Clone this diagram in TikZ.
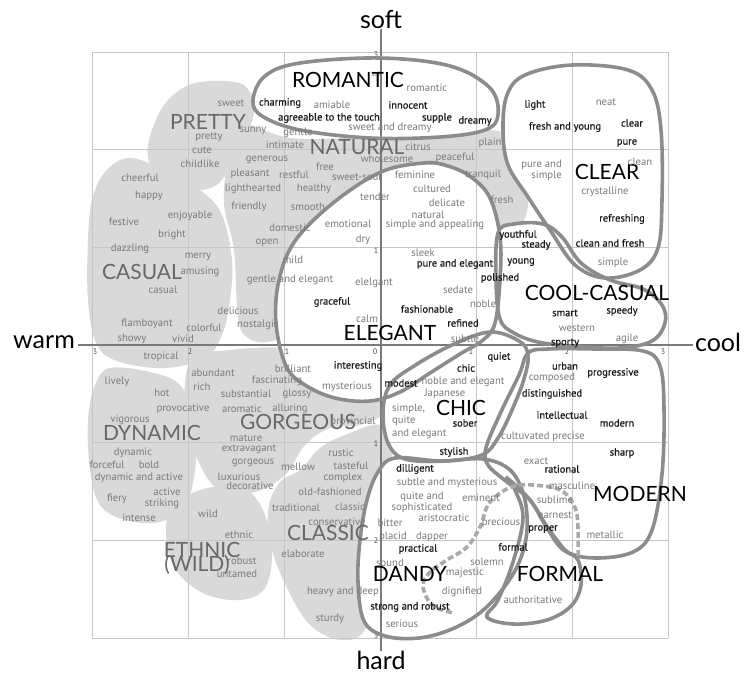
\documentclass[tikz,border=0pt]{standalone}
\usepackage{fontspec}
\setmainfont{PT Sans}
\newfontfamily\labfont{Lato}
\newfontfamily\bwfont[FakeBold=0.6]{PT Sans}
\definecolor{blob}{HTML}{D9D9D9}
\definecolor{wgray}{HTML}{7A7A7A}
\definecolor{lgray}{HTML}{686868}
\definecolor{ogray}{HTML}{8C8C8C}
\definecolor{gridc}{HTML}{C6C6C6}
\definecolor{axc}{HTML}{7A7A7A}
\begin{document}
\begin{tikzpicture}[x=1pt,y=-1pt,
 gw/.style={text=wgray,font=\fontsize{10.7}{11}\selectfont,inner sep=0pt},
 bw/.style={text=black!90,font=\bwfont\fontsize{10.5}{11}\selectfont,inner sep=0pt},
 bl/.style={text=black,font=\labfont\fontsize{21}{21}\selectfont,inner sep=0pt},
 gl/.style={text=lgray,font=\labfont\fontsize{21}{21}\selectfont,inner sep=0pt},
 axl/.style={font=\labfont\fontsize{25}{25}\selectfont,inner sep=0pt},
 tickl/.style={font=\fontsize{8}{8}\selectfont,text=black!70,inner sep=0pt},
 region/.style={draw=ogray,line width=3.6pt},
 rgRomantic/.style={insert path={plot[smooth cycle,tension=0.6] coordinates{(253,100) (265,76) (300,63) (380,58) (450,66) (490,88) (498,115) (485,130) (440,137) (370,138) (300,130) (262,116)}}},
 rgClear/.style={insert path={plot[smooth cycle,tension=0.6] coordinates{(572,65) (628,70) (652,90) (661,130) (662,200) (658,248) (640,270) (605,278) (575,265) (550,230) (528,197) (508,165) (503,130) (507,95) (525,75)}}},
 rgElegant/.style={insert path={plot[smooth cycle,tension=0.6] coordinates{(424,163) (381,172) (333,203) (295,241) (279,280) (276,323) (286,366) (305,385) (335,398) (370,401) (400,392) (430,373) (460,354) (483,340) (495,323) (500,280) (500,237) (490,198) (471,177) (448,166)}}},
 rgCool/.style={insert path={plot[smooth cycle,tension=0.6] coordinates{(498,233) (514,224) (543,224) (562,237) (581,263) (610,280) (643,289) (662,305) (665,323) (652,341) (619,348) (571,346) (538,342) (514,333) (500,319) (496,280)}}},
 rgChic/.style={insert path={plot[smooth cycle,tension=0.6] coordinates{(490,332) (519,341) (528,355) (524,379) (512,410) (498,438) (482,455) (445,461) (405,459) (388,443) (383,412) (390,385) (414,366) (452,345)}}},
 rgModern/.style={insert path={plot[smooth cycle,tension=0.6] coordinates{(528,353) (548,349) (595,349) (643,351) (660,366) (664,409) (662,474) (652,530) (633,552) (595,558) (565,551) (547,528) (530,500) (507,482) (488,465) (486,448) (500,414) (519,375)}}},
 rgDandy/.style={insert path={plot[smooth cycle,tension=0.6] coordinates{(395,458) (440,461) (483,459) (510,470) (524,496) (527,530) (520,560) (505,586) (481,612) (452,629) (419,638) (385,636) (364,621) (358,582) (360,540) (367,500) (378,472)}}},
 rgFormal/.style={insert path={plot[smooth cycle,tension=0.6] coordinates{(507,478) (530,500) (548,528) (565,550) (578,560) (581,585) (571,606) (547,620) (513,624) (487,617) (498,600) (513,562) (523,518) (515,490)}}},
]
\useasboundingbox (0,0) rectangle (744,678);
% gray blobs
\fill[blob] plot[smooth cycle,tension=0.6] coordinates{(195,83) (235,82) (250,92) (254,112) (245,140) (230,168) (215,186) (190,190) (162,180) (148,158) (152,130) (168,100)};
\fill[blob] plot[smooth cycle,tension=0.6] coordinates{(128,158) (160,168) (200,190) (222,215) (232,260) (230,300) (222,335) (205,358) (165,368) (120,362) (97,345) (88,300) (88,240) (92,200) (105,172)};
\fill[blob] plot[smooth cycle,tension=0.6] coordinates{(240,125) (290,138) (350,138) (430,135) (490,130) (510,140) (522,170) (528,205) (518,228) (490,240) (420,245) (330,245) (290,270) (282,330) (268,342) (248,338) (238,318) (234,250) (224,205) (228,160)};
\fill[blob] plot[smooth cycle,tension=0.6] coordinates{(110,368) (150,372) (180,385) (195,420) (195,470) (185,505) (160,522) (125,520) (100,505) (90,470) (88,420) (95,385)};
\fill[blob] plot[smooth cycle,tension=0.6] coordinates{(190,362) (230,350) (300,350) (360,380) (385,410) (360,425) (330,428) (305,445) (285,475) (255,492) (220,490) (200,465) (186,420)};
\fill[blob] plot[smooth cycle,tension=0.6] coordinates{(300,470) (320,448) (345,435) (380,425) (392,450) (390,520) (375,580) (365,630) (340,640) (310,625) (288,590) (272,550) (268,510) (280,482)};
\fill[blob] plot[smooth cycle,tension=0.6] coordinates{(170,510) (200,490) (240,487) (262,508) (272,550) (265,588) (240,600) (205,594) (178,573) (167,545)};
% white regions
\fill[white,rgRomantic];
\fill[white,rgClear];
\fill[white,rgElegant];
\fill[white,rgCool];
\fill[white,rgChic];
\fill[white,rgModern];
\fill[white,rgDandy];
\fill[white,rgFormal];
% grid
\foreach \gx in {92,188,284,380,476,572,668} \draw[gridc,line width=0.8pt] (\gx,52) -- (\gx,638);
\foreach \gy in {52,149.7,247.3,345,442.7,540.3,638} \draw[gridc,line width=0.8pt] (92,\gy) -- (668,\gy);
% axes
\node[axl] (soft) at (381,20) {soft};
\node[axl] (hard) at (381,660) {hard};
\node[axl] (warm) at (44,342) {warm};
\node[axl] (cool) at (718,342) {cool};
\coordinate (axL) at (78,345);
\coordinate (axR) at (693,345);
\draw[axc,line width=1.2pt] (soft.south) -- (hard.north);
\draw[axc,line width=1.2pt] (axL) -- (axR);
% ticks
\node[tickl] (t1) at (95,352) {3};
\node[tickl] (t2) at (190,352) {2};
\node[tickl] (t3) at (287,352) {1};
\node[tickl] (t4) at (375,352) {0};
\node[tickl] (t5) at (471,352) {1};
\node[tickl] (t6) at (567,352) {2};
\node[tickl] (t7) at (663,352) {3};
\node[tickl] (t8) at (376,55) {3};
\node[tickl] (t9) at (376,251) {1};
\node[tickl] (t10) at (376,444) {1};
\node[tickl] (t11) at (376,541) {2};
\node[tickl] (t12) at (376,636) {3};
% outlines
\draw[region,rgRomantic];
\draw[region,rgClear];
\draw[region,rgElegant];
\draw[region,rgCool];
\draw[region,rgChic];
\draw[region,rgModern];
\draw[region,rgDandy];
\draw[region,rgFormal];
\draw[draw=ogray!75,line width=3.6pt,dash pattern=on 6pt off 3pt] plot[smooth,tension=0.6] coordinates{(578,556) (577,515) (567,495) (550,487) (515,486) (490,502) (480,527) (467,547) (447,560) (430,572) (423,585) (428,600) (437,608) (453,613)};
% big labels
\node[gw,font=\fontsize{7}{8}\selectfont] (wsoft) at (377,74) {soft};
\node[bl] (lRomantic) at (348,80) {ROMANTIC};
\node[gl] (lPretty) at (208,122) {PRETTY};
\node[gl] (lNatural) at (357,147) {NATURAL};
\node[bl] (lClear) at (607,172) {CLEAR};
\node[gl] (lCasual) at (142,272) {CASUAL};
\node[bl] (lCool) at (597,293) {COOL-CASUAL};
\node[bl] (lElegant) at (390,333) {ELEGANT};
\node[bl] (lChic) at (461,408) {CHIC};
\node[gl] (lGorgeous) at (298,422) {GORGEOUS};
\node[gl] (lDynamic) at (152,433) {DYNAMIC};
\node[bl] (lModern) at (640,494) {MODERN};
\node[gl] (lClassic) at (328,533) {CLASSIC};
\node[gl] (lEthnic) at (202,550) {ETHNIC};
\node[gl] (lWild) at (197,565) {(WILD)};
\node[bl] (lDandy) at (410,574) {DANDY};
\node[bl] (lFormal) at (560,574) {FORMAL};
% left words
\node[gw] (a1) at (231,103) {sweet};
\node[bw] (a2) at (280,103) {charming};
\node[gw] (a3) at (253,131) {sunny};
\node[gw] (a4) at (209,137) {pretty};
\node[gw] (a5) at (298,133) {gentle};
\node[gw] (a6) at (285,145) {intimate};
\node[gw] (a7) at (202,150) {cute};
\node[gw] (a8) at (200,164) {childlike};
\node[gw] (a9) at (267,160) {generous};
\node[gw] (a10) at (140,178) {cheerful};
\node[gw] (a11) at (250,174) {pleasant};
\node[gw] (a12) at (294,175) {restful};
\node[gw] (a13) at (149,196) {happy};
\node[gw] (a14) at (253,189) {lighthearted};
\node[gw] (a15) at (314,189) {healthy};
\node[gw] (a16) at (249,207) {friendly};
\node[gw] (a17) at (308,207) {smooth};
\node[gw] (a18) at (124,222) {festive};
\node[gw] (a19) at (190,216) {enjoyable};
\node[gw] (a20) at (290,228) {domestic};
\node[gw] (a21) at (172,235) {bright};
\node[gw] (a22) at (267,243) {open};
\node[gw] (a23) at (130,249) {dazzling};
\node[gw] (a24) at (198,257) {merry};
\node[gw] (a25) at (293,260) {mild};
\node[gw] (a26) at (200,272) {amusing};
\node[gw] (a27) at (290,280) {gentle and elegant};
\node[gw] (a28) at (163,290) {casual};
\node[gw] (a29) at (238,311) {delicious};
\node[gw] (a30) at (147,324) {flamboyant};
\node[gw] (a31) at (204,328) {colorful};
\node[gw] (a32) at (258,325) {nostalgic};
\node[gw] (a33) at (132,339) {showy};
\node[gw] (a34) at (183,339) {vivid};
\node[gw] (a35) at (161,357) {tropical};
\node[gw] (a36) at (213,373) {abundant};
\node[gw] (a37) at (117,382) {lively};
\node[gw] (a38) at (277,381) {fascinating};
\node[gw] (a39) at (202,387) {rich};
\node[gw] (a40) at (162,393) {hot};
\node[gw] (a41) at (246,394) {substantial};
\node[gw] (a42) at (297,394) {glossy};
\node[gw] (a43) at (293,369) {brilliant};
\node[gw] (a44) at (183,409) {provocative};
\node[gw] (a45) at (242,409) {aromatic};
\node[gw] (a46) at (290,409) {alluring};
\node[gw] (a47) at (130,420) {vigorous};
\node[gw] (a48) at (246,438) {mature};
\node[gw] (a49) at (249,449) {extravagant};
\node[gw] (a50) at (133,453) {dynamic};
\node[gw] (a51) at (253,463) {gorgeous};
\node[gw] (a52) at (107,465) {forceful};
\node[gw] (a53) at (149,465) {bold};
\node[gw] (a54) at (139,478) {dynamic and active};
\node[gw] (a55) at (239,477) {luxurious};
\node[gw] (a56) at (250,486) {decorative};
\node[gw] (a57) at (167,492) {active};
\node[gw] (a58) at (117,499) {fiery};
\node[gw] (a59) at (162,504) {striking};
\node[gw] (a60) at (208,514) {wild};
\node[gw] (a61) at (139,518) {intense};
\node[gw] (a62) at (239,535) {ethnic};
\node[gw] (a63) at (242,561) {robust};
\node[gw] (a64) at (237,574) {untamed};
\node[gw] (a65) at (353,422) {provincial};
\node[gw] (a66) at (341,453) {rustic};
\node[gw] (a67) at (298,467) {mellow};
\node[gw] (a68) at (351,466) {tasteful};
\node[gw] (a69) at (343,478) {complex};
\node[gw] (a70) at (330,492) {old-fashioned};
\node[gw] (a71) at (296,508) {traditional};
\node[gw] (a72) at (350,507) {classic};
\node[gw] (a73) at (337,522) {conservative};
\node[gw] (a74) at (303,554) {elaborate};
\node[gw] (a75) at (343,592) {heavy and deep};
\node[gw] (a76) at (330,619) {sturdy};
% romantic / natural
\node[gw] (b1) at (427,88) {romantic};
\node[gw] (b2) at (332,105) {amiable};
\node[bw] (b3) at (408,105) {innocent};
\node[bw] (b4) at (329,118) {agreeable to the touch};
\node[bw] (b5) at (437,118) {supple};
\node[bw] (b6) at (475,121) {dreamy};
\node[gw] (b7) at (390,128) {sweet and dreamy};
\node[gw] (b8) at (418,147) {citrus};
\node[gw] (b9) at (490,143) {plain};
\node[gw] (b10) at (387,159) {wholesome};
\node[gw] (b11) at (455,158) {peaceful};
\node[gw] (b12) at (325,167) {free};
\node[gw] (b13) at (357,177) {sweet-sour};
\node[gw] (b14) at (415,175) {feminine};
\node[gw] (b15) at (483,175) {tranquil};
\node[gw] (b16) at (432,189) {cultured};
\node[gw] (b17) at (375,197) {tender};
\node[gw] (b18) at (447,203) {delicate};
\node[gw] (b19) at (502,200) {fresh};
\node[gw] (b20) at (428,215) {natural};
\node[gw] (b21) at (348,224) {emotional};
\node[gw] (b22) at (435,225) {simple and appealing};
\node[gw] (b23) at (363,240) {dry};
% clear
\node[bw] (c1) at (535,105) {light};
\node[gw] (c2) at (606,102) {neat};
\node[bw] (c3) at (565,127) {fresh and young};
\node[bw] (c4) at (632,123) {clear};
\node[bw] (c5) at (627,143) {pure};
\node[gw,anchor=east,align=right] (c6) at (562,170) {pure and\\simple};
\node[gw] (c7) at (640,162) {clean};
\node[gw] (c8) at (605,192) {crystalline};
\node[bw] (c9) at (622,219) {refreshing};
\node[bw] (c10) at (610,243) {clean and fresh};
\node[gw] (c11) at (613,263) {simple};
% cool-casual
\node[bw] (d1) at (518,235) {youthful};
\node[bw] (d2) at (536,245) {steady};
\node[bw] (d3) at (521,262) {young};
\node[bw] (d4) at (500,278) {polished};
\node[bw] (d5) at (565,313) {smart};
\node[bw] (d6) at (622,311) {speedy};
\node[gw] (d7) at (577,328) {western};
\node[gw] (d8) at (627,339) {agile};
\node[bw] (d9) at (565,343) {sporty};
% elegant
\node[gw] (e1) at (423,253) {sleek};
\node[bw] (e2) at (455,264) {pure and elegant};
\node[gw] (e3) at (374,283) {elelgant};
\node[bw] (e4) at (332,302) {graceful};
\node[gw] (e5) at (458,290) {sedate};
\node[gw] (e6) at (483,304) {noble};
\node[bw] (e7) at (427,309) {fashionable};
\node[gw] (e8) at (367,319) {calm};
\node[bw] (e9) at (463,323) {refined};
\node[gw] (e10) at (465,339) {subtle};
\node[bw] (e11) at (358,366) {interesting};
\node[gw] (e12) at (347,387) {mysterious};
% chic
\node[bw] (f1) at (499,357) {quiet};
\node[bw] (f2) at (466,368) {chic};
\node[bw] (f3) at (401,383) {modest};
\node[gw] (f4) at (463,382) {noble and elegant};
\node[gw] (f5) at (445,394) {Japanese};
\node[gw,anchor=west,align=left,font=\fontsize{10.7}{12.5}\selectfont] (f6) at (392,421) {simple,\\quite\\and elegant};
\node[bw] (f7) at (465,423) {sober};
\node[bw] (f8) at (454,452) {stylish};
% modern
\node[bw] (g1) at (565,366) {urban};
\node[gw] (g2) at (552,378) {composed};
\node[bw] (g3) at (613,373) {progressive};
\node[bw] (g4) at (552,394) {distinguished};
\node[bw] (g5) at (562,415) {intellectual};
\node[bw] (g6) at (617,423) {modern};
\node[gw] (g7) at (543,437) {cultuvated precise};
\node[bw] (g8) at (622,453) {sharp};
\node[gw] (g9) at (536,461) {exact};
\node[bw] (g10) at (562,469) {rational};
\node[gw] (g11) at (572,486) {masculine};
\node[gw] (g12) at (555,500) {sublime};
\node[gw] (g13) at (555,515) {earnest};
\node[bw] (g14) at (543,529) {proper};
\node[gw] (g15) at (605,535) {metallic};
% dandy / formal
\node[bw] (h1) at (415,469) {dilligent};
\node[gw] (h2) at (447,483) {subtle and mysterious};
\node[gw] (h3) at (422,497) {quite and};
\node[gw] (h4) at (422,508) {sophisticated};
\node[gw] (h5) at (481,498) {eminent};
\node[gw] (h6) at (390,523) {bitter};
\node[gw] (h7) at (444,518) {aristocratic};
\node[gw] (h8) at (501,523) {precious};
\node[gw] (h9) at (393,537) {placid};
\node[gw] (h10) at (432,537) {dapper};
\node[bw] (h11) at (418,549) {practical};
\node[bw] (h12) at (513,547) {formal};
\node[gw] (h13) at (390,563) {sound};
\node[gw] (h14) at (487,562) {solemn};
\node[gw] (h15) at (465,573) {majestic};
\node[gw] (h16) at (462,592) {dignified};
\node[bw] (h17) at (410,607) {strong and robust};
\node[gw] (h18) at (402,624) {serious};
\node[gw] (h19) at (533,600) {authoritative};
\end{tikzpicture}
\end{document}
